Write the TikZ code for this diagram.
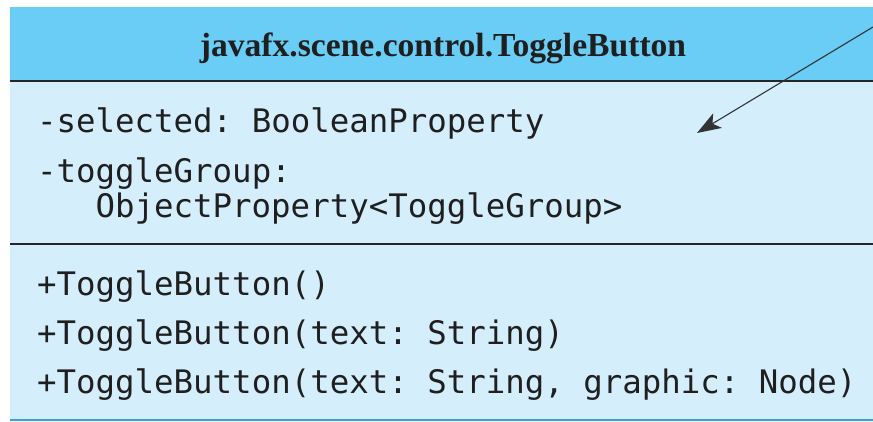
\documentclass[tikz,border=0pt]{standalone}
\usepackage{fontspec}
\setmainfont{Liberation Serif}
\setmonofont{DejaVu Sans Mono}
\usetikzlibrary{arrows.meta,positioning}
\definecolor{headblue}{HTML}{69CDF6}
\definecolor{bodyblue}{HTML}{D5EEFC}
\definecolor{edgeblue}{HTML}{3A9FD4}

\begin{document}
\begin{tikzpicture}[x=1pt,y=-1pt,
    member/.style={anchor=base west, inner sep=0pt, font=\fontsize{32.4}{36}\selectfont\ttfamily, text=black!88},
    title/.style={anchor=base, inner sep=0pt, font=\fontsize{33.6}{38}\selectfont\bfseries, text=black!88},
    rule/.style={line width=2.5pt, black!85},
    arr/.style={-{Stealth[length=24pt,width=17pt,inset=6pt]}, line width=1.1pt, black!80}
]
\useasboundingbox (0,0) rectangle (873,422);
% class box
\fill[headblue] (10,7) rectangle (873,81);
\fill[bodyblue] (10,81) rectangle (873,420);
\draw[rule] (10,81) -- (873,81);
\draw[rule] (10,244) -- (873,244);
\draw[line width=2pt, edgeblue] (10,420) -- (873,420);

\node[title] (name) at (443,57) {javafx.scene.control.ToggleButton};

\node[member] (selected) at (37,133) {-selected: BooleanProperty};
\node[member] (group) at (37,183) {-toggleGroup:};
\node[member] (groupType) at (95.5,218) {ObjectProperty<ToggleGroup>};

\node[member] (ctorA) at (37,295) {+ToggleButton()};
\node[member] (ctorB) at (37,344) {+ToggleButton(text: String)};
\node[member] (ctorC) at (37,393) {+ToggleButton(text: String, graphic: Node)};

% pointer
\coordinate (from) at (873,27);
\coordinate (to) at (697,133);
\draw[arr] (from) -- (to);
\end{tikzpicture}
\end{document}
